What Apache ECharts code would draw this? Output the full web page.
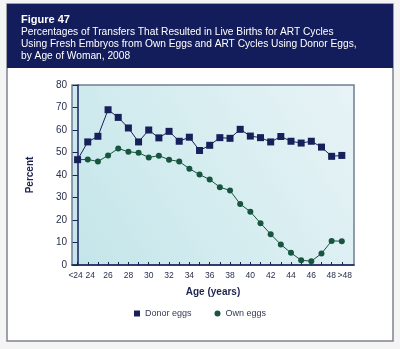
<!DOCTYPE html>
<html>
<head>
<meta charset="utf-8">
<script src="https://cdn.jsdelivr.net/npm/echarts@6/dist/echarts.min.js"></script>
<style>
  html, body { margin: 0; padding: 0; background: #f4f4f4; }
  #chart { width: 400px; height: 349px; }
</style>
</head>
<body>
<div id="chart"></div>
<script>
// Age groups of the woman (x-axis categories)
var ageGroups = ['<24', '24', '25', '26', '27', '28', '29', '30', '31', '32', '33', '34', '35',
  '36', '37', '38', '39', '40', '41', '42', '43', '44', '45', '46', '47', '48', '>48'];

// Percentage of transfers resulting in live births
var donorEggs = [46.8, 54.7, 57.2, 69.0, 65.6, 60.9, 54.7, 60.0, 56.5, 59.4, 55.0, 56.8, 50.9,
  53.2, 56.6, 56.3, 60.3, 57.3, 56.6, 54.7, 57.1, 55.0, 54.2, 55.0, 52.4, 48.3, 48.7];
var ownEggs = [46.8, 46.9, 46.0, 48.7, 51.8, 50.3, 49.9, 47.8, 48.6, 46.8, 46.0, 42.8, 40.2,
  38.0, 34.6, 33.1, 27.1, 23.7, 18.6, 13.7, 9.1, 5.4, 2.1, 1.7, 5.1, 10.7, 10.6];

// Tick labels printed under the axis: open-ended groups and even ages
var edgeLabels = ['<24', '>48'];
var evenLabels = ['24', '26', '28', '30', '32', '34', '36', '38', '40', '42', '44', '46', '48'];
var yTicks = [0, 10, 20, 30, 40, 50, 60, 70, 80];

var NAVY = '#16205a';
var GREEN = '#17553f';
var FONT = '"Liberation Sans", Arial, sans-serif';
var LABEL_COLOR = '#2a2f4a';
var LABEL_SIZE = 8.5;

function toPairs(values) {
  return values.map(function (v, i) { return [i, v]; });
}
function indicesOf(labels) {
  return labels.map(function (a) { return ageGroups.indexOf(a); });
}

var tickIdx = ageGroups.map(function (_, i) { return i; });
var X_MIN = -0.55, X_MAX = 27.2;

// crowded neighbours at both ends are nudged apart a little
function fragment(pad) {
  return { color: LABEL_COLOR, fontSize: LABEL_SIZE, fontFamily: FONT, padding: pad };
}
var labelStyle = {
  hideOverlap: false,
  color: LABEL_COLOR, fontSize: LABEL_SIZE, margin: 6, fontFamily: FONT,
  rich: {
    left: fragment([0, 4, 0, 0]),
    slightLeft: fragment([0, 1, 0, 0]),
    right: fragment([0, 0, 0, 5]),
    farRight: fragment([0, 0, 0, 6]),
    plain: fragment([0, 0, 0, 0])
  },
  formatter: function (v) {
    var t = ageGroups[Math.round(v)];
    if (t === '<24') return '{left|' + t + '}';
    if (t === '24') return '{right|' + t + '}';
    if (t === '48') return '{slightLeft|' + t + '}';
    if (t === '>48') return '{farRight|' + t + '}';
    return '{plain|' + t + '}';
  }
};

var chart = echarts.init(document.getElementById('chart'), null, { renderer: 'canvas' });

chart.setOption({
  animation: false,
  backgroundColor: '#f4f4f4',
  textStyle: { fontFamily: FONT },
  graphic: [
    // page panel
    { type: 'rect', z: -10, shape: { x: 7, y: 4, width: 386, height: 337 },
      style: { fill: '#ffffff', stroke: '#7d828c', lineWidth: 1.5 } },
    // title band
    { type: 'rect', z: -9, shape: { x: 7, y: 4, width: 386, height: 64 },
      style: { fill: '#141d5c' } }
  ],
  title: {
    left: 16,
    top: 9,
    text: 'Figure 47',
    textStyle: { color: '#ffffff', fontSize: 11, fontWeight: 'bold', fontFamily: FONT },
    subtext: 'Percentages of Transfers That Resulted in Live Births for ART Cycles\nUsing Fresh Embryos from Own Eggs and ART Cycles Using Donor Eggs,\nby Age of Woman, 2008',
    subtextStyle: { color: '#ffffff', fontSize: 10.2, lineHeight: 12, fontFamily: FONT },
    itemGap: 1
  },
  legend: {
    top: 304,
    left: 'center',
    itemWidth: 6,
    itemHeight: 6,
    itemGap: 23,
    textStyle: { color: '#333a55', fontSize: 9, fontFamily: FONT },
    data: [
      { name: 'Donor eggs', icon: 'rect', itemStyle: { color: NAVY } },
      { name: 'Own eggs', icon: 'circle', itemStyle: { color: GREEN } }
    ]
  },
  grid: {
    left: 72, right: 46, top: 85, bottom: 84,
    show: true,
    borderColor: '#6f7f92',
    borderWidth: 1.5,
    backgroundColor: new echarts.graphic.LinearGradient(0, 1, 1, 0, [
      { offset: 0, color: '#c3e5e9' },
      { offset: 0.5, color: '#d6edf0' },
      { offset: 1, color: '#e8f3f6' }
    ])
  },
  xAxis: [
    {
      // main age axis: line, ticks, even-age labels
      type: 'value',
      position: 'bottom',
      min: X_MIN,
      max: X_MAX,
      name: 'Age (years)',
      nameLocation: 'middle',
      nameGap: 22,
      nameTextStyle: { color: '#1d2450', fontSize: 10, fontWeight: 'bold', fontFamily: FONT },
      axisLine: { show: true, onZero: false, lineStyle: { color: NAVY, width: 1.5 } },
      axisTick: { show: true, inside: true, length: 3, customValues: tickIdx,
        lineStyle: { color: NAVY, width: 1 } },
      axisLabel: Object.assign({ customValues: indicesOf(evenLabels) }, labelStyle),
      splitLine: { show: false }
    },
    {
      // open-ended age groups at both ends
      type: 'value',
      position: 'bottom',
      offset: 0,
      min: X_MIN,
      max: X_MAX,
      axisLine: { show: false, onZero: false },
      axisTick: { show: false },
      axisLabel: Object.assign({ customValues: indicesOf(edgeLabels) }, labelStyle),
      splitLine: { show: false }
    }
  ],
  yAxis: {
    type: 'value',
    min: 0,
    max: 80,
    interval: 10,
    name: 'Percent',
    nameLocation: 'middle',
    nameGap: 37,
    nameTextStyle: { color: '#1d2450', fontSize: 10, fontWeight: 'bold', fontFamily: FONT },
    axisLine: { show: true, lineStyle: { color: NAVY, width: 1.5 } },
    axisTick: { show: true, length: 5, lineStyle: { color: NAVY, width: 1 } },
    axisLabel: {
      color: LABEL_COLOR, fontSize: 10, margin: 5, fontFamily: FONT,
      formatter: function (v) { return yTicks.indexOf(v) >= 0 ? String(v) : ''; }
    },
    splitLine: { show: false }
  },
  series: [
    {
      name: 'Own eggs',
      type: 'line',
      xAxisIndex: 0,
      data: toPairs(ownEggs),
      symbol: 'circle',
      symbolSize: 6,
      lineStyle: { color: GREEN, width: 1 },
      itemStyle: { color: GREEN },
      z: 2
    },
    {
      name: 'Donor eggs',
      type: 'line',
      xAxisIndex: 0,
      data: toPairs(donorEggs),
      symbol: 'rect',
      symbolSize: 7,
      lineStyle: { color: NAVY, width: 1 },
      itemStyle: { color: NAVY },
      z: 3
    }
  ]
});
</script>
</body>
</html>
